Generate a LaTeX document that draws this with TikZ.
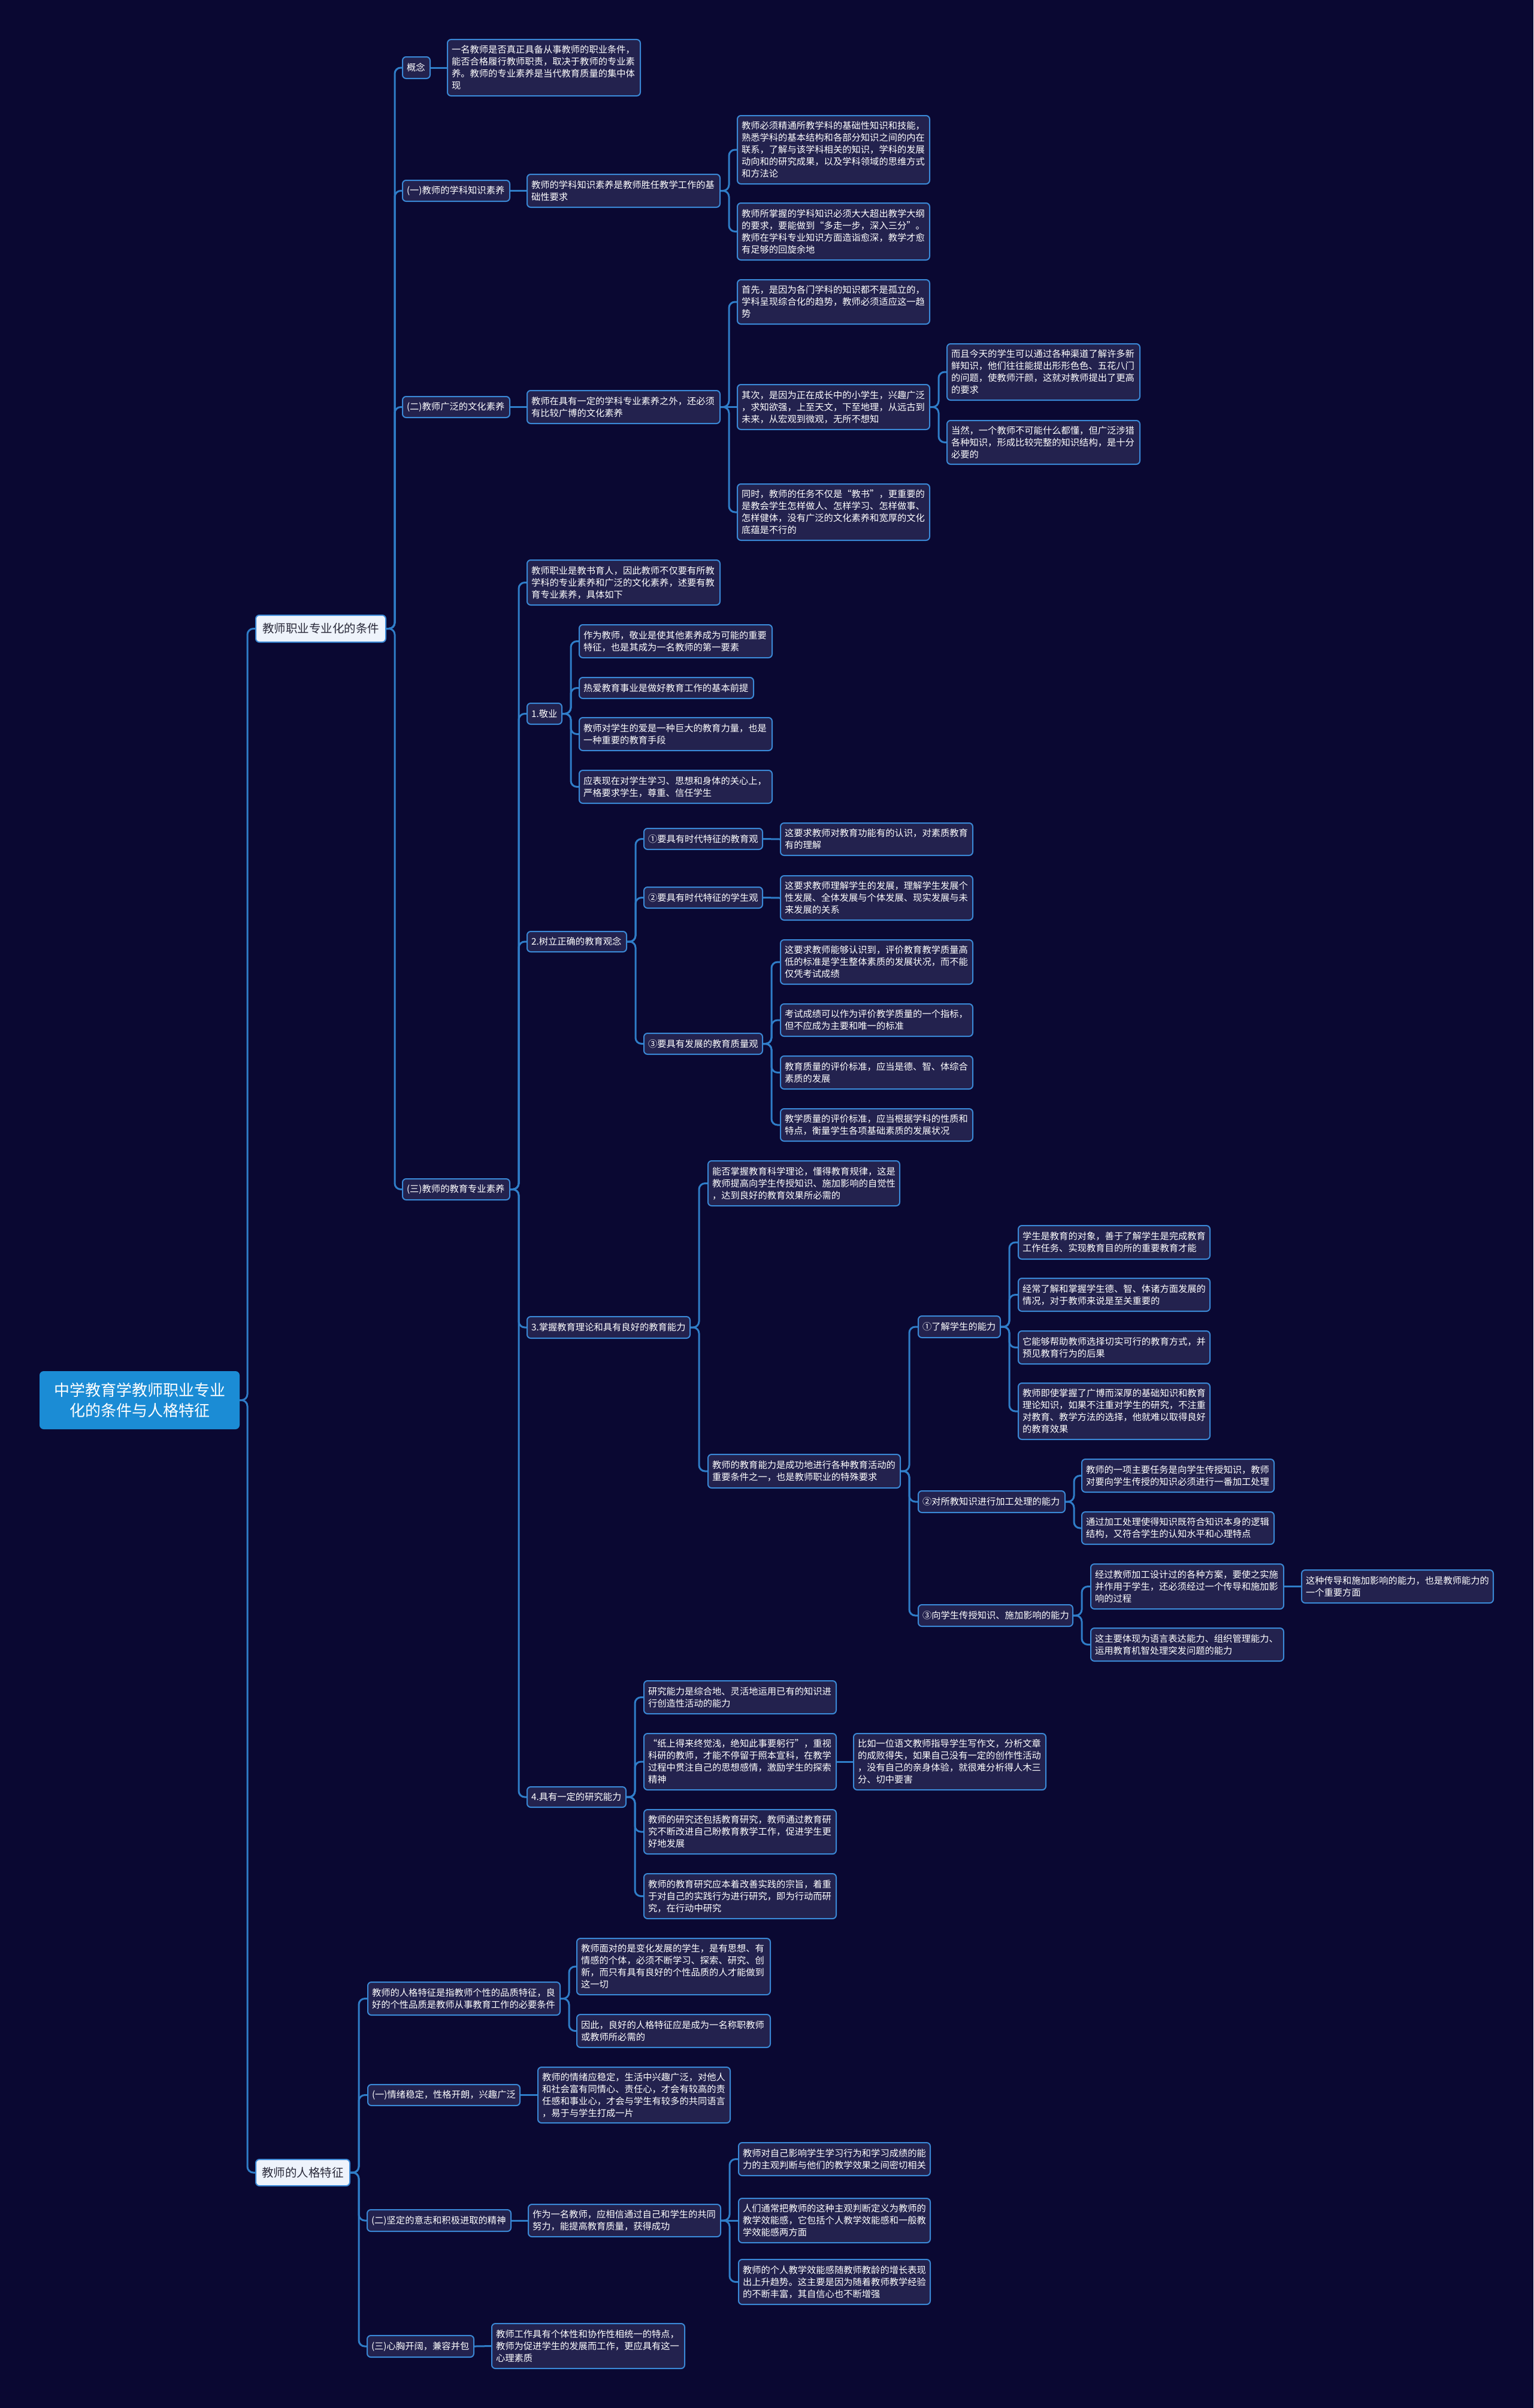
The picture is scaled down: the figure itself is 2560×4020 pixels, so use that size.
\documentclass[tikz,border=0pt]{standalone}
\usepackage{fontspec}
\setmainfont{Noto Sans CJK SC}
\definecolor{bgc}{HTML}{0A0832}
\definecolor{nodefill}{HTML}{23224E}
\definecolor{nodeline}{HTML}{3A88D6}
\definecolor{cLine}{HTML}{2F7DC8}
\definecolor{rootfill}{HTML}{1B8CD5}
\definecolor{lonefill}{HTML}{EEF3FB}
\definecolor{lonetext}{HTML}{2A2A3A}
\tikzset{
  box/.style={draw=nodeline, fill=nodefill, line width=2pt, rounded corners=6pt, text=white,
    align=left, inner xsep=7pt, inner ysep=0pt, font=\fontsize{15.3}{20}\selectfont},
  lvlone/.style={draw=nodeline, fill=lonefill, text=lonetext, align=center,
    font=\fontsize{19.5}{24}\selectfont},
  rootbox/.style={draw=rootfill, fill=rootfill, text=white, align=center,
    font=\fontsize{26}{34}\selectfont},
  conn/.style={draw=cLine, line width=3pt, rounded corners=10pt}
}
\newcommand\bx[7][]{%
  \pgfmathsetmacro\bxw{#5-#3}%
  \pgfmathsetmacro\bxh{#6-#4}%
  \pgfmathsetmacro\bxt{#5-#3-14}%
  \pgfmathsetmacro\bxcx{(#3+#5)/2}%
  \pgfmathsetmacro\bxcy{(#4+#6)/2}%
  \node[box,#1,minimum width=\bxw pt,minimum height=\bxh pt,text width=\bxt pt] (#2) at (\bxcx,\bxcy) {#7};}
\newcommand\cn[2]{\draw[conn] (#1.east) -- ++(14,0) |- (#2.west);}
\newcommand\cs[2]{\draw[conn] (#1.east) -- (#2.west);}
\begin{document}
\begin{tikzpicture}[x=1pt,y=-1pt]
\fill[bgc] (0,0) rectangle (2560,4020);
\useasboundingbox (0,0) rectangle (2560,4020);

% root and level 1
\bx[rootbox]{R}{67}{2290}{399}{2385}{中学教育学教师职业专业\\化的条件与人格特征}
\bx[lvlone]{A}{427}{1027}{644}{1072}{教师职业专业化的条件}
\bx[lvlone]{B}{427}{3605}{584}{3649}{教师的人格特征}

% A branch
\bx{a1}{672}{95}{718}{131}{概念}
\bx{a1c}{747}{66}{1069}{160}{一名教师是否真正具备从事教师的职业条件，\\能否合格履行教师职责，取决于教师的专业素\\养。教师的专业素养是当代教育质量的集中体\\现}
\bx{a2}{672}{301}{851}{336}{(一)教师的学科知识素养}
\bx{a2c}{880}{291}{1202}{346}{教师的学科知识素养是教师胜任教学工作的基\\础性要求}
\bx{a2c1}{1231}{193}{1552}{307}{教师必须精通所教学科的基础性知识和技能，\\熟悉学科的基本结构和各部分知识之间的内在\\联系，了解与该学科相关的知识，学科的发展\\动向和的研究成果，以及学科领域的思维方式\\和方法论}
\bx{a2c2}{1231}{339}{1552}{434}{教师所掌握的学科知识必须大大超出教学大纲\\的要求，要能做到“多走一步，深入三分”。\\教师在学科专业知识方面造诣愈深，教学才愈\\有足够的回旋余地}
\bx{a3}{672}{662}{851}{697}{(二)教师广泛的文化素养}
\bx{a3c}{880}{652}{1202}{707}{教师在具有一定的学科专业素养之外，还必须\\有比较广博的文化素养}
\bx{a3c1}{1231}{467}{1552}{541}{首先，是因为各门学科的知识都不是孤立的，\\学科呈现综合化的趋势，教师必须适应这一趋\\势}
\bx{a3c2}{1231}{642}{1552}{717}{其次，是因为正在成长中的小学生，兴趣广泛\\，求知欲强，上至天文，下至地理，从远古到\\未来，从宏观到微观，无所不想知}
\bx{a3c2a}{1581}{574}{1903}{668}{而且今天的学生可以通过各种渠道了解许多新\\鲜知识，他们往往能提出形形色色、五花八门\\的问题，使教师汗颜，这就对教师提出了更高\\的要求}
\bx{a3c2b}{1581}{702}{1903}{775}{当然，一个教师不可能什么都懂，但广泛涉猎\\各种知识，形成比较完整的知识结构，是十分\\必要的}
\bx{a3c3}{1231}{808}{1552}{902}{同时，教师的任务不仅是“教书”，更重要的\\是教会学生怎样做人、怎样学习、怎样做事、\\怎样健体，没有广泛的文化素养和宽厚的文化\\底蕴是不行的}
\bx{a4}{672}{1968}{851}{2003}{(三)教师的教育专业素养}
\bx{a4c0}{880}{935}{1202}{1010}{教师职业是教书育人，因此教师不仅要有所教\\学科的专业素养和广泛的文化素养，述要有教\\育专业素养，具体如下}
\bx{a4c1}{880}{1174}{938}{1209}{1.敬业}
\bx{e1}{967}{1043}{1289}{1098}{作为教师，敬业是使其他素养成为可能的重要\\特征，也是其成为一名教师的第一要素}
\bx{e2}{967}{1131}{1258}{1166}{热爱教育事业是做好教育工作的基本前提}
\bx{e3}{967}{1198}{1289}{1253}{教师对学生的爱是一种巨大的教育力量，也是\\一种重要的教育手段}
\bx{e4}{967}{1286}{1289}{1341}{应表现在对学生学习、思想和身体的关心上，\\严格要求学生，尊重、信任学生}
\bx{a4c2}{880}{1555}{1046}{1589}{2.树立正确的教育观念}
\bx{o1}{1075}{1383}{1273}{1418}{①要具有时代特征的教育观}
\bx{o1c}{1303}{1374}{1624}{1428}{这要求教师对教育功能有的认识，对素质教育\\有的理解}
\bx{o2}{1075}{1481}{1273}{1516}{②要具有时代特征的学生观}
\bx{o2c}{1303}{1462}{1624}{1536}{这要求教师理解学生的发展，理解学生发展个\\性发展、全体发展与个体发展、现实发展与未\\来发展的关系}
\bx{o3}{1075}{1725}{1273}{1760}{③要具有发展的教育质量观}
\bx{o3a}{1303}{1569}{1624}{1643}{这要求教师能够认识到，评价教育教学质量高\\低的标准是学生整体素质的发展状况，而不能\\仅凭考试成绩}
\bx{o3b}{1303}{1676}{1624}{1730}{考试成绩可以作为评价教学质量的一个指标，\\但不应成为主要和唯一的标准}
\bx{o3c}{1303}{1763}{1624}{1818}{教育质量的评价标准，应当是德、智、体综合\\素质的发展}
\bx{o3d}{1303}{1851}{1624}{1905}{教学质量的评价标准，应当根据学科的性质和\\特点，衡量学生各项基础素质的发展状况}
\bx{a4c3}{880}{2198}{1152}{2234}{3.掌握教育理论和具有良好的教育能力}
\bx{t1}{1182}{1938}{1502}{2013}{能否掌握教育科学理论，懂得教育规律，这是\\教师提高向学生传授知识、施加影响的自觉性\\，达到良好的教育效果所必需的}
\bx{t2}{1182}{2428}{1503}{2484}{教师的教育能力是成功地进行各种教育活动的\\重要条件之一，也是教师职业的特殊要求}
\bx{t2a}{1533}{2197}{1670}{2233}{①了解学生的能力}
\bx{t2a1}{1700}{2046}{2020}{2102}{学生是教育的对象，善于了解学生是完成教育\\工作任务、实现教育目的所的重要教育才能}
\bx{t2a2}{1700}{2134}{2020}{2189}{经常了解和掌握学生德、智、体诸方面发展的\\情况，对于教师来说是至关重要的}
\bx{t2a3}{1700}{2222}{2020}{2277}{它能够帮助教师选择切实可行的教育方式，并\\预见教育行为的后果}
\bx{t2a4}{1700}{2309}{2020}{2403}{教师即使掌握了广博而深厚的基础知识和教育\\理论知识，如果不注重对学生的研究，不注重\\对教育、教学方法的选择，他就难以取得良好\\的教育效果}
\bx{t2b}{1533}{2489}{1778}{2525}{②对所教知识进行加工处理的能力}
\bx{t2b1}{1806}{2436}{2127}{2491}{教师的一项主要任务是向学生传授知识，教师\\对要向学生传授的知识必须进行一番加工处理}
\bx{t2b2}{1806}{2524}{2127}{2578}{通过加工处理使得知识既符合知识本身的逻辑\\结构，又符合学生的认知水平和心理特点}
\bx{t2c}{1533}{2679}{1791}{2715}{③向学生传授知识、施加影响的能力}
\bx{t2c1}{1821}{2611}{2143}{2686}{经过教师加工设计过的各种方案，要使之实施\\并作用于学生，还必须经过一个传导和施加影\\响的过程}
\bx{t2c1a}{2173}{2621}{2493}{2676}{这种传导和施加影响的能力，也是教师能力的\\一个重要方面}
\bx{t2c2}{1821}{2718}{2143}{2773}{这主要体现为语言表达能力、组织管理能力、\\运用教育机智处理突发问题的能力}
\bx{a4c4}{880}{2983}{1045}{3017}{4.具有一定的研究能力}
\bx{r1}{1075}{2806}{1396}{2861}{研究能力是综合地、灵活地运用已有的知识进\\行创造性活动的能力}
\bx{r2}{1075}{2894}{1396}{2988}{“纸上得来终觉浅，绝知此事要躬行”，重视\\科研的教师，才能不停留于照本宣科，在教学\\过程中贯注自己的思想感情，激励学生的探索\\精神}
\bx{r2a}{1425}{2894}{1746}{2988}{比如一位语文教师指导学生写作文，分析文章\\的成败得失，如果自己没有一定的创作性活动\\，没有自己的亲身体验，就很难分析得人木三\\分、切中要害}
\bx{r3}{1075}{3021}{1396}{3095}{教师的研究还包括教育研究，教师通过教育研\\究不断改进自己盼教育教学工作，促进学生更\\好地发展}
\bx{r4}{1075}{3128}{1396}{3203}{教师的教育研究应本着改善实践的宗旨，着重\\于对自己的实践行为进行研究，即为行动而研\\究，在行动中研究}

% B branch
\bx{b0}{614}{3309}{935}{3364}{教师的人格特征是指教师个性的品质特征，良\\好的个性品质是教师从事教育工作的必要条件}
\bx{b0a}{963}{3236}{1286}{3330}{教师面对的是变化发展的学生，是有思想、有\\情感的个体，必须不断学习、探索、研究、创\\新，而只有具有良好的个性品质的人才能做到\\这一切}
\bx{b0b}{963}{3363}{1286}{3418}{因此，良好的人格特征应是成为一名称职教师\\或教师所必需的}
\bx{b1}{614}{3480}{868}{3515}{(一)情绪稳定，性格开朗，兴趣广泛}
\bx{b1c}{898}{3451}{1219}{3544}{教师的情绪应稳定，生活中兴趣广泛，对他人\\和社会富有同情心、责任心，才会有较高的责\\任感和事业心，才会与学生有较多的共同语言\\，易于与学生打成一片}
\bx{b2}{613}{3689}{853}{3725}{(二)坚定的意志和积极进取的精神}
\bx{b2c}{882}{3680}{1203}{3734}{作为一名教师，应相信通过自己和学生的共同\\努力，能提高教育质量，获得成功}
\bx{b2c1}{1233}{3577}{1553}{3632}{教师对自己影响学生学习行为和学习成绩的能\\力的主观判断与他们的教学效果之间密切相关}
\bx{b2c2}{1233}{3670}{1553}{3744}{人们通常把教师的这种主观判断定义为教师的\\教学效能感，它包括个人教学效能感和一般教\\学效能感两方面}
\bx{b2c3}{1233}{3772}{1553}{3847}{教师的个人教学效能感随教师教龄的增长表现\\出上升趋势。这主要是因为随着教师教学经验\\的不断丰富，其自信心也不断增强}
\bx{b3}{613}{3899}{791}{3935}{(三)心胸开阔，兼容并包}
\bx{b3c}{821}{3879}{1143}{3954}{教师工作具有个体性和协作性相统一的特点，\\教师为促进学生的发展而工作，更应具有这一\\心理素质}

% connectors
\draw[conn] (R.east) -- ++(13,0) |- (A.west);
\draw[conn] (R.east) -- ++(13,0) |- (B.west);
\cn{A}{a1}\cn{A}{a2}\cn{A}{a3}\cn{A}{a4}
\cs{a1}{a1c}
\cs{a2}{a2c}\cn{a2c}{a2c1}\cn{a2c}{a2c2}
\cs{a3}{a3c}\cn{a3c}{a3c1}\cs{a3c}{a3c2}\cn{a3c}{a3c3}
\cn{a3c2}{a3c2a}\cn{a3c2}{a3c2b}
\cn{a4}{a4c0}\cn{a4}{a4c1}\cn{a4}{a4c2}\cn{a4}{a4c3}\cn{a4}{a4c4}
\cn{a4c1}{e1}\cn{a4c1}{e2}\cn{a4c1}{e3}\cn{a4c1}{e4}
\cn{a4c2}{o1}\cn{a4c2}{o2}\cn{a4c2}{o3}
\cs{o1}{o1c}\cs{o2}{o2c}
\cn{o3}{o3a}\cn{o3}{o3b}\cn{o3}{o3c}\cn{o3}{o3d}
\cn{a4c3}{t1}\cn{a4c3}{t2}
\cn{t2}{t2a}\cn{t2}{t2b}\cn{t2}{t2c}
\cn{t2a}{t2a1}\cn{t2a}{t2a2}\cn{t2a}{t2a3}\cn{t2a}{t2a4}
\cn{t2b}{t2b1}\cn{t2b}{t2b2}
\cn{t2c}{t2c1}\cn{t2c}{t2c2}\cs{t2c1}{t2c1a}
\cn{a4c4}{r1}\cn{a4c4}{r2}\cn{a4c4}{r3}\cn{a4c4}{r4}
\cs{r2}{r2a}
\cn{B}{b0}\cn{B}{b1}\cn{B}{b2}\cn{B}{b3}
\cn{b0}{b0a}\cn{b0}{b0b}
\cs{b1}{b1c}
\cs{b2}{b2c}\cn{b2c}{b2c1}\cs{b2c}{b2c2}\cn{b2c}{b2c3}
\cs{b3}{b3c}
\end{tikzpicture}
\end{document}
